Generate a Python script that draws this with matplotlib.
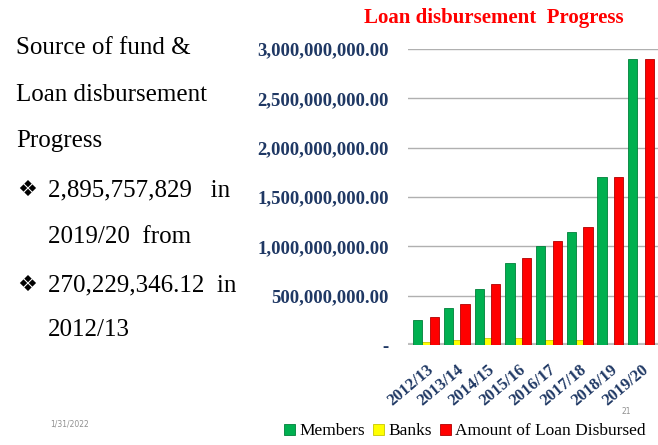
import matplotlib.pyplot as plt
import numpy as np

years = ['2012/13', '2013/14', '2014/15', '2015/16', '2016/17', '2017/18', '2018/19', '2019/20']
members = [255e6, 372e6, 572e6, 829e6, 1008e6, 1146e6, 1700e6, 2895.76e6]
banks = [34e6, 50e6, 68e6, 68e6, 50e6, 50e6, 0, 0]
disbursed = [282e6, 413e6, 622e6, 886e6, 1052e6, 1194e6, 1700e6, 2895.76e6]
yticks = [0, 500e6, 1000e6, 1500e6, 2000e6, 2500e6, 3000e6]

navy = '#1f3864'
serif = ['Liberation Serif', 'DejaVu Serif']

fig = plt.figure(figsize=(6.58, 4.45), dpi=100)
ax = fig.add_axes([0.620, 0.2247, 0.38, 0.6653])

x = np.arange(len(years))
w = 0.3
ax.bar(x - 0.27, members, w, color='#00b050', edgecolor='#00803a', linewidth=0.6, label='Members', zorder=3)
ax.bar(x, banks, w, color='#ffff00', edgecolor='#c8c800', linewidth=0.6, label='Banks', zorder=2)
ax.bar(x + 0.27, disbursed, w, color='#ff0000', edgecolor='#b00000', linewidth=0.6,
       label='Amount of Loan Disbursed', zorder=3)

ax.set_xlim(-0.59, 7.55)
ax.set_ylim(0, 3000e6)
ax.set_yticks(yticks)
ax.set_yticklabels(['-'] + ['{:,.2f}'.format(v) for v in yticks[1:]],
                   fontsize=13.5, fontweight='bold', color=navy, family=serif)
ax.set_xticks(x)
ax.set_xticklabels(years, rotation=40, ha='right', rotation_mode='anchor',
                   fontsize=12, fontweight='bold', color=navy, family=serif)
ax.tick_params(length=0, pad=14)
ax.tick_params(axis='x', pad=12)
ax.grid(axis='y', color='#b0b0b0', linewidth=1, zorder=0)
for s in ax.spines.values():
    s.set_visible(False)
ax.axhline(0, color='#c0c0c0', linewidth=3, zorder=1)

fig.text(0.750, 0.960, 'Loan disbursement  Progress', color='#ff0000', fontsize=15,
         fontweight='bold', family=serif, ha='center', va='center')

# left side text
lines = [('', 'Source of fund &'), ('', 'Loan disbursement'), ('', 'Progress'),
         ('\u2756', '2,895,757,829   in'), ('', '2019/20  from'),
         ('\u2756', '270,229,346.12  in'), ('', '2012/13')]
ys = [48, 95, 141, 190, 237, 285, 330]
for i, ((b, t), yy) in enumerate(zip(lines, ys)):
    xx = 16 if i < 3 else 48
    fig.text(xx / 658, 1 - yy / 445, t, fontsize=18, family=serif, va='center', ha='left')
    if b:
        fig.text(17 / 658, 1 - yy / 445, b, fontsize=16, family=['DejaVu Sans'], va='center', ha='left')

fig.text(50 / 658, 1 - 424 / 445, '1/31/2022', fontsize=5.5, color='#909090', va='center')
fig.text(622 / 658, 1 - 411 / 445, '21', fontsize=5.5, color='#909090', va='center')

fig.legend(loc='lower right', bbox_to_anchor=(1.005, -0.022), ncol=3, frameon=False,
           prop={'family': serif, 'size': 12.5}, handlelength=0.6, handleheight=0.6,
           handletextpad=0.25, columnspacing=0.5)

fig.savefig('out.png', dpi=100)
